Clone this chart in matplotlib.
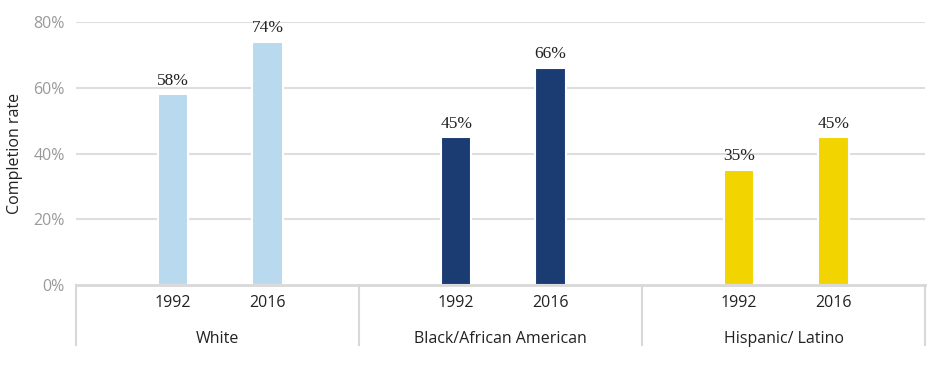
import matplotlib
matplotlib.use("Agg")
import matplotlib.pyplot as plt
import matplotlib.transforms as mtransforms

groups = ["White", "Black/African American", "Hispanic/ Latino"]
years = ["1992", "2016"]
values = {
    "White": [58, 74],
    "Black/African American": [45, 66],
    "Hispanic/ Latino": [35, 45],
}
colors = {
    "White": "#B8D9EE",
    "Black/African American": "#1B3C73",
    "Hispanic/ Latino": "#F2D500",
}
yticks = [0, 20, 40, 60, 80]

fig = plt.figure(figsize=(9.39, 3.76), dpi=100)
ax = fig.add_axes([76/939, 1-285/376, (925-76)/939, (285-22)/376])

sans = ["Open Sans", "DejaVu Sans"]
serif = ["Liberation Serif", "DejaVu Serif"]

slots = 3
xt, xl = [], []
for gi, g in enumerate(groups):
    xs = [gi*slots + 1.03 + k for k in range(len(years))]
    bars = ax.bar(xs, values[g], width=0.32, color=colors[g], edgecolor="white",
                  linewidth=1.5, zorder=3)
    for b, v in zip(bars, values[g]):
        ax.annotate(f"{v}%", (b.get_x()+b.get_width()/2, v), xytext=(0, 4),
                    textcoords="offset points", ha="center", va="bottom",
                    fontsize=12.5, family=serif, color="#222222", zorder=4)
    xt += xs
    xl += years

ax.set_xlim(0, slots*len(groups))
ax.set_ylim(0, 80)
ax.set_yticks(yticks)
ax.set_yticklabels([f"{t}%" for t in yticks], family=sans, fontsize=11.5, color="#9a9a9a")
ax.set_xticks(xt)
ax.set_xticklabels(xl, family=sans, fontsize=11.5, color="#222222")
ax.tick_params(axis="both", length=0)
ax.tick_params(axis="y", pad=8)
ax.tick_params(axis="x", pad=7)
for s in ax.spines.values():
    s.set_visible(False)

for t in yticks[1:]:
    ax.axhline(t, color="#dedede", linewidth=1.5, zorder=1)
ax.axhline(0, color="#d8d8d8", linewidth=2, zorder=5, clip_on=False)

trans = mtransforms.blended_transform_factory(ax.transData, ax.transAxes)
for gi in range(len(groups)+1):
    ax.plot([gi*slots, gi*slots], [0, -0.228], transform=trans, color="#d8d8d8",
            linewidth=1.5, clip_on=False, zorder=5)
for gi, g in enumerate(groups):
    ax.text(gi*slots + slots/2, -0.205, g, transform=trans, ha="center", va="center",
            family=sans, fontsize=11.5, color="#222222")

fig.text(15/939, 1-153.5/376, "Completion rate", rotation=90, ha="center", va="center",
         family=sans, fontsize=11.5, color="#222222")

fig.savefig("out.png", dpi=100)
